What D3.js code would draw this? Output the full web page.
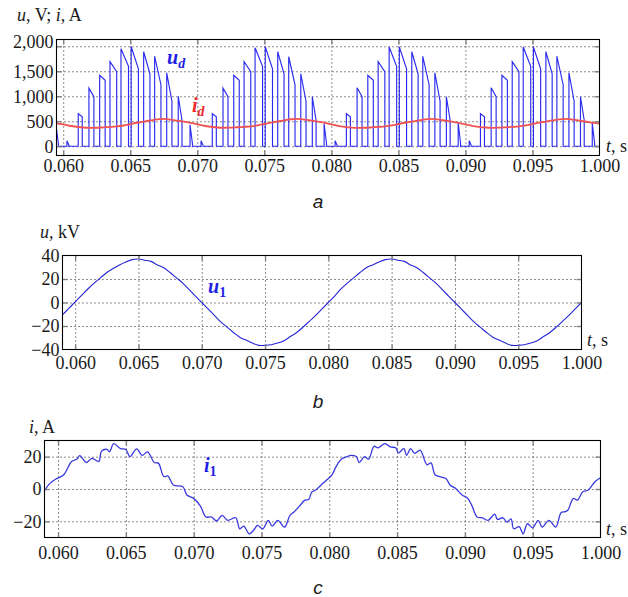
<!DOCTYPE html>
<html>
<head>
<meta charset="utf-8">
<script src="https://cdn.jsdelivr.net/npm/d3@7"></script>
<style>
  html, body { margin: 0; padding: 0; background: #fff; }
  svg { display: block; }
</style>
</head>
<body>
<svg id="fig" width="628" height="597"></svg>
<script>
// ---------- shared axis ticks ----------
const xTickValues = [0.060, 0.065, 0.070, 0.075, 0.080, 0.085, 0.090, 0.095, 0.100];
const xTickLabels = ["0.060", "0.065", "0.070", "0.075", "0.080", "0.085", "0.090", "0.095", "1.000"];

// ---------- (a) rectified voltage u_d: pulses [on time, off time, value at rise, value at fall] ----------
const udPulses = [
  [0.05946, 0.05964, 430, 50],
  [0.06028, 0.06043, 110, 20], [0.06112, 0.06142, 650, 590], [0.06192, 0.06229, 1160, 990],
  [0.06272, 0.06313, 1420, 1320], [0.06349, 0.06399, 1690, 1490], [0.06431, 0.06487, 1950, 1600],
  [0.06507, 0.06561, 1990, 1550], [0.06600, 0.06647, 1890, 1450], [0.06682, 0.06729, 1800, 1230],
  [0.06772, 0.06811, 1470, 900], [0.06858, 0.06886, 1000, 520], [0.06946, 0.06964, 430, 50],
  [0.07028, 0.07043, 110, 20], [0.07112, 0.07142, 650, 590], [0.07192, 0.07229, 1160, 990],
  [0.07272, 0.07313, 1420, 1320], [0.07349, 0.07399, 1690, 1490], [0.07431, 0.07487, 1970, 1600],
  [0.07507, 0.07561, 1990, 1550], [0.07600, 0.07647, 1890, 1450], [0.07682, 0.07729, 1790, 1230],
  [0.07772, 0.07811, 1450, 900], [0.07858, 0.07886, 990, 520], [0.07946, 0.07964, 450, 50],
  [0.08028, 0.08043, 110, 20], [0.08112, 0.08142, 650, 590], [0.08192, 0.08229, 1170, 990],
  [0.08272, 0.08313, 1420, 1320], [0.08349, 0.08399, 1690, 1490], [0.08431, 0.08487, 1985, 1600],
  [0.08507, 0.08561, 1985, 1550], [0.08600, 0.08647, 1890, 1450], [0.08682, 0.08729, 1800, 1230],
  [0.08772, 0.08811, 1470, 900], [0.08858, 0.08886, 990, 520], [0.08946, 0.08964, 470, 50],
  [0.09028, 0.09043, 110, 20], [0.09112, 0.09142, 650, 590], [0.09192, 0.09229, 1170, 990],
  [0.09272, 0.09313, 1420, 1320], [0.09349, 0.09399, 1690, 1490], [0.09431, 0.09487, 1985, 1600],
  [0.09507, 0.09561, 1985, 1550], [0.09600, 0.09647, 1890, 1450], [0.09682, 0.09729, 1800, 1230],
  [0.09772, 0.09811, 1470, 900], [0.09858, 0.09886, 990, 520], [0.09946, 0.09964, 460, 50]
];

// (a) rectified current i_d, sampled every 0.5 ms from 0.0595 s
const idStart = 0.0595;
const idStep = 0.0005;
const idValues = [
  452, 438, 410, 390, 375, 368, 370, 378, 386, 396, 415, 442, 470, 492, 515, 538, 546, 532, 512, 492,
  468, 440, 410, 390, 375, 370, 372, 380, 388, 398, 418, 445, 472, 495, 518, 540, 548, 534, 514, 494,
  466, 438, 408, 388, 374, 368, 370, 378, 387, 397, 416, 443, 470, 493, 516, 539, 547, 533, 513, 493,
  467, 439, 409, 389, 375, 369, 371, 379, 387, 397, 417, 444, 471, 494, 517, 539, 546, 532, 512, 490,
  466, 452
];
const udTickValues = [0, 500, 1000, 1500, 2000];
const udTickLabels = ["0", "500", "1,000", "1,500", "2,000"];

// ---------- (b) primary voltage u_1, kV, sampled every 0.5 ms from 0.059 s ----------
const u1Start = 0.059;
const u1Step = 0.0005;
const u1Values = [
  -10.5, -5, 0.5, 6, 11.5, 16.5, 21, 25.5, 29, 32, 34.5, 36.5, 37, 36, 35, 32, 29.5, 25.5, 21, 16.5,
  11, 5.5, 0, -5.5, -11, -16.5, -21, -25.5, -29.5, -32, -34.5, -36.5, -36.5, -36, -34.5, -32.5, -29, -25.5, -21, -16,
  -11, -5.5, 0, 5.5, 11.5, 16.5, 21, 25.5, 29.5, 32, 34.5, 36.5, 37, 36, 35, 32, 29.5, 25.5, 21, 16.5,
  11, 5.5, 0, -5.5, -11, -16.5, -21, -25.5, -29.5, -32, -34.5, -36.5, -36.5, -36, -34.5, -32.5, -29, -25.5, -21, -16,
  -11, -5.5, 0
];
const u1TickValues = [-40, -20, 0, 20, 40];
const u1TickLabels = ["\u221240", "\u221220", "0", "20", "40"];

// ---------- (c) primary current i_1, A: time / value of the ripple vertices ----------
const i1Time = [
  0.0590, 0.0594, 0.0598, 0.0604, 0.0610, 0.0614, 0.0616, 0.0621, 0.0625, 0.0630,
  0.0632, 0.0636, 0.0638, 0.0641, 0.0646, 0.0650, 0.0653, 0.0658, 0.0662, 0.0666,
  0.0671, 0.0674, 0.0678, 0.0681, 0.0685, 0.0692, 0.0695, 0.0700, 0.0705, 0.0709,
  0.0713, 0.0717, 0.0721, 0.0725, 0.0731, 0.0734, 0.0737, 0.0741, 0.0745, 0.0747,
  0.0751, 0.0755, 0.0758, 0.0762, 0.0767, 0.0771, 0.0774, 0.0778, 0.0782, 0.0785,
  0.0787, 0.0790, 0.0794, 0.0798, 0.0802, 0.0805, 0.0809, 0.0813, 0.0816, 0.0820,
  0.0822, 0.0826, 0.0829, 0.0833, 0.0836, 0.0841, 0.0845, 0.0849, 0.0851, 0.0855,
  0.0857, 0.0860, 0.0863, 0.0867, 0.0872, 0.0875, 0.0878, 0.0882, 0.0886, 0.0889,
  0.0893, 0.0898, 0.0902, 0.0905, 0.0909, 0.0913, 0.0917, 0.0922, 0.0924, 0.0928,
  0.0931, 0.0934, 0.0936, 0.0940, 0.0943, 0.0946, 0.0950, 0.0954, 0.0957, 0.0962,
  0.0967, 0.0971, 0.0974, 0.0976, 0.0980, 0.0983, 0.0987, 0.0991, 0.0996, 0.1000
];
const i1Values = [
  -1, 3.5, 6, 8.7, 17, 18.5, 20.6, 16.4, 19, 17,
  23.3, 24.5, 23, 28, 25, 24.4, 20, 24.8, 20.8, 23,
  16.4, 16, 7.7, 8, 2.5, 1.4, -3.7, -5.8, -10.6, -17.3,
  -17.3, -19.8, -16.3, -19.4, -17.8, -24.6, -23, -27.7, -24.6, -22.5,
  -24.6, -19.4, -23, -19.4, -23.6, -16.3, -14.2, -10.6, -6.9, -6.4,
  -1.9, -0.6, 2.5, 5.6, 8.8, 13.8, 18.5, 20, 20.8, 20,
  16.4, 20, 18.5, 26.4, 25.5, 28.1, 26, 25.5, 22.3, 25,
  20.8, 25, 22, 24, 15, 16.2, 8.8, 7.5, 6.5, 2.5,
  0.4, -3.7, -5.7, -10, -17.3, -17.8, -19.4, -15.6, -18.8, -17.8,
  -20.4, -18.5, -24.6, -23.3, -27.7, -21.5, -24, -19.4, -23.5, -19.4,
  -23.5, -14.5, -14, -13, -5.8, -6.9, -1.7, -0.6, 4.6, 7
];
const i1TickValues = [-20, 0, 20];
const i1TickLabels = ["\u221220", "0", "20"];

// ---------- layout ----------
const SERIF = "'Liberation Serif', 'DejaVu Serif', serif";
const SANS = "'Liberation Sans', Arial, sans-serif";
const svg = d3.select("#fig");

function drawPanel(cfg) {
  const g = svg.append("g");
  const x = d3.scaleLinear().domain(cfg.xDomain).range([cfg.left, cfg.right]);
  const y = d3.scaleLinear().domain(cfg.yDomain).range([cfg.bottom, cfg.top]);
  const h = cfg.bottom - cfg.top, w = cfg.right - cfg.left;

  // dotted grid
  const gx = g.append("g").attr("transform", `translate(0,${cfg.bottom})`)
    .call(d3.axisBottom(x).tickValues(xTickValues.slice(0, -1)).tickSize(-h).tickFormat(""));
  const gy = g.append("g").attr("transform", `translate(${cfg.left},0)`)
    .call(d3.axisLeft(y).tickValues(cfg.yTicks.filter(v => y(v) > cfg.top + 1 && y(v) < cfg.bottom - 1)).tickSize(-w).tickFormat(""));
  [gx, gy].forEach(a => {
    a.select(".domain").remove();
    a.selectAll("line").attr("stroke", "#1a1a1a").attr("stroke-width", 1).attr("stroke-dasharray", "1,3");
  });

  // clip
  const clipId = "clip-" + cfg.name;
  svg.append("clipPath").attr("id", clipId).append("rect")
    .attr("x", cfg.left).attr("y", cfg.top).attr("width", w).attr("height", h);
  const plot = g.append("g").attr("clip-path", `url(#${clipId})`);

  cfg.series(plot, x, y);

  // inward ticks on all four sides
  const tickLen = 5;
  const sides = [
    [d3.axisBottom(x).tickValues(xTickValues), `translate(0,${cfg.bottom})`, true],
    [d3.axisTop(x).tickValues(xTickValues), `translate(0,${cfg.top})`, false],
    [d3.axisLeft(y).tickValues(cfg.yTicks), `translate(${cfg.left},0)`, true],
    [d3.axisRight(y).tickValues(cfg.yTicks), `translate(${cfg.right},0)`, false]
  ];
  sides.forEach(([ax, tr, labelled], k) => {
    ax.tickSizeInner(-tickLen).tickSizeOuter(0);
    if (labelled) {
      if (k === 0) ax.tickFormat((d, i) => xTickLabels[i]).tickPadding(cfg.xPad);
      else ax.tickFormat((d, i) => cfg.yLabels[i]).tickPadding(3);
    } else ax.tickFormat("");
    const a = g.append("g").attr("transform", tr).call(ax);
    a.select(".domain").remove();
    a.selectAll(".tick line").attr("stroke", "#808080").attr("stroke-width", 1.4);
    a.selectAll(".tick line").filter(d => (k < 2 && (x(d) < cfg.left + 1 || x(d) > cfg.right - 1)) ||
                                         (k >= 2 && (y(d) < cfg.top + 1 || y(d) > cfg.bottom - 1))).remove();
    a.selectAll("text").attr("font-family", SERIF).attr("font-size", 18).attr("fill", "#1a1a1a");
    if (k === 2 && cfg.yNudge) {
      a.selectAll(".tick text")
        .attr("transform", d => cfg.yNudge[d] !== undefined ? `translate(0,${cfg.yNudge[d]})` : null);
    }
  });

  // frame
  g.append("rect").attr("x", cfg.left).attr("y", cfg.top).attr("width", w).attr("height", h)
    .attr("fill", "none").attr("stroke", "#000").attr("stroke-width", 1.1);

  // axis titles
  const yt = g.append("text").attr("x", cfg.yTitle.x).attr("y", cfg.yTitle.y)
    .attr("font-family", SERIF).attr("font-size", 18).attr("fill", "#1a1a1a");
  cfg.yTitle.parts.forEach(([s, it]) => yt.append("tspan").attr("font-style", it ? "italic" : "normal").text(s));
  const xt = g.append("text").attr("x", cfg.xTitle.x).attr("y", cfg.xTitle.y)
    .attr("font-family", SERIF).attr("font-size", 18).attr("fill", "#1a1a1a");
  xt.append("tspan").attr("font-style", "italic").text("t");
  xt.append("tspan").text(", s");

  // series labels
  cfg.labels.forEach(l => {
    const t = g.append("text").attr("x", l.x).attr("y", l.y).attr("font-family", SERIF)
      .attr("font-weight", "bold").attr("font-style", "italic").attr("font-size", 20).attr("fill", l.color);
    t.append("tspan").text(l.main);
    t.append("tspan").attr("font-size", 14).attr("dy", 4).attr("font-style", l.subItalic ? "italic" : "normal").text(l.sub);
  });

  // panel caption
  svg.append("text").attr("x", cfg.caption.x).attr("y", cfg.caption.y).attr("text-anchor", "middle")
    .attr("font-family", SANS).attr("font-style", "italic").attr("font-size", 19).attr("fill", "#1a1a1a")
    .text(cfg.caption.text);
}

// panel (a)
drawPanel({
  name: "a", left: 56.5, right: 599.5, top: 39.5, bottom: 155.5,
  xDomain: [0.0595, 0.1000], yDomain: [-185, 2135],
  yTicks: udTickValues, yLabels: udTickLabels, xPad: 4, yNudge: {2000: -5},
  yTitle: { x: 17, y: 20.5, parts: [["u", true], [", V; ", false], ["i", true], [", A", false]] },
  xTitle: { x: 606, y: 152 },
  labels: [
    { x: 167, y: 64, main: "u", sub: "d", subItalic: true, color: "#1f1fe6" },
    { x: 192, y: 112, main: "i", sub: "d", subItalic: true, color: "#ec2a2a" }
  ],
  caption: { x: 318, y: 208, text: "a" },
  series: (p, x, y) => {
    const pts = [[0.0590, 0]];
    udPulses.forEach(([on, off, v0, v1]) => {
      pts.push([on, 0], [on, v0], [off, v1], [off, 0]);
    });
    pts.push([0.1010, 0]);
    p.append("path").datum(pts)
      .attr("d", d3.line().x(d => x(d[0])).y(d => y(d[1])))
      .attr("fill", "none").attr("stroke", "#2a2af0").attr("stroke-width", 1.15).attr("stroke-linejoin", "miter");
    const idPts = idValues.map((v, i) => [idStart + i * idStep, v]);
    p.append("path").datum(idPts)
      .attr("d", d3.line().x(d => x(d[0])).y(d => y(d[1])).curve(d3.curveMonotoneX))
      .attr("fill", "none").attr("stroke", "#f05252").attr("stroke-width", 1.8);
  }
});

// panel (b)
drawPanel({
  name: "b", left: 62.5, right: 581.5, top: 255.5, bottom: 349.5,
  xDomain: [0.0590, 0.1000], yDomain: [-40, 40],
  yTicks: u1TickValues, yLabels: u1TickLabels, xPad: 6.5,
  yTitle: { x: 40, y: 238, parts: [["u", true], [", kV", false]] },
  xTitle: { x: 587, y: 346 },
  labels: [{ x: 208, y: 293, main: "u", sub: "1", subItalic: false, color: "#1f1fe6" }],
  caption: { x: 318, y: 408, text: "b" },
  series: (p, x, y) => {
    const pts = u1Values.map((v, i) => [u1Start + i * u1Step, v]);
    p.append("path").datum(pts)
      .attr("d", d3.line().x(d => x(d[0])).y(d => y(d[1])).curve(d3.curveCatmullRom))
      .attr("fill", "none").attr("stroke", "#2424d8").attr("stroke-width", 1.1);
  }
});

// panel (c)
drawPanel({
  name: "c", left: 44.5, right: 600.5, top: 440.5, bottom: 537.5,
  xDomain: [0.0590, 0.1000], yDomain: [-30, 30],
  yTicks: i1TickValues, yLabels: i1TickLabels, xPad: 9,
  yTitle: { x: 29, y: 432.5, parts: [["i", true], [", A", false]] },
  xTitle: { x: 606, y: 535 },
  labels: [{ x: 204, y: 472, main: "i", sub: "1", subItalic: false, color: "#1f1fe6" }],
  caption: { x: 318, y: 594, text: "c" },
  series: (p, x, y) => {
    const pts = i1Time.map((t, i) => [t, i1Values[i]]);
    p.append("path").datum(pts)
      .attr("d", d3.line().x(d => x(d[0])).y(d => y(d[1])).curve(d3.curveCatmullRom))
      .attr("fill", "none").attr("stroke", "#3a3ae0").attr("stroke-width", 1.3);
  }
});
</script>
</body>
</html>
